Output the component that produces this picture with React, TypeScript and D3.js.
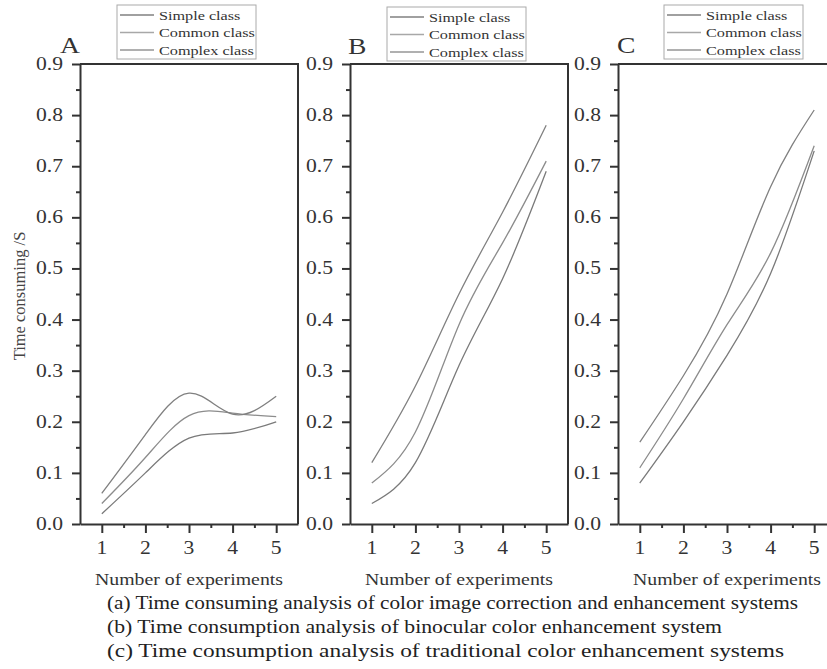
import React, { useEffect, useRef } from 'react';
import * as d3 from 'd3';

// values
const experiments = [1, 2, 3, 4, 5];
const classNames = ['Simple class', 'Common class', 'Complex class'];
const panelLetters = ['A', 'B', 'C'];

const simpleA = [0.02, 0.1, 0.168, 0.178, 0.2];
const commonA = [0.04, 0.13, 0.212, 0.217, 0.21];
const complexA = [0.06, 0.175, 0.256, 0.215, 0.25];

const simpleB = [0.04, 0.12, 0.31, 0.48, 0.69];
const commonB = [0.08, 0.18, 0.39, 0.55, 0.71];
const complexB = [0.12, 0.27, 0.45, 0.61, 0.78];

const simpleC = [0.08, 0.2, 0.33, 0.49, 0.73];
const commonC = [0.11, 0.245, 0.39, 0.53, 0.74];
const complexC = [0.16, 0.29, 0.45, 0.66, 0.81];

const yMajor = [0, 0.1, 0.2, 0.3, 0.4, 0.5, 0.6, 0.7, 0.8, 0.9];
const yMinor = [0.05, 0.15, 0.25, 0.35, 0.45, 0.55, 0.65, 0.75, 0.85];
const xMinor = [1.5, 2.5, 3.5, 4.5];

const captions = [
    '(a) Time consuming analysis of color image correction and enhancement systems',
    '(b) Time consumption analysis of binocular color enhancement system',
    '(c) Time consumption analysis of traditional color enhancement systems',
];

const panels = [
    { series: [simpleA, commonA, complexA] },
    { series: [simpleB, commonB, complexB] },
    { series: [simpleC, commonC, complexC] },
];

const FONT = '"Liberation Serif", "Times New Roman", serif';
const SX = 1.2; // the picture is a bit wide, so the type is stretched

const D3TimeChart = () => {
    const svgRef = useRef(null);

    useEffect(() => {
        const svg = d3.select(svgRef.current);
        svg.selectAll('*').remove();

        const top = 64;
        const bottom = 524;
        const panelW = 218;
        const panelLeft = [80, 350, 618];
        const letterPos = [[60, 53], [348, 54], [617, 53]];
        const legendPos = [[117, 5], [387, 7], [664, 5]];
        const lineColors = ['#7a7a7a', '#8c8c8c', '#808080'];
        const legendColors = ['#808080', '#a8a8a8', '#969696'];

        const y = d3.scaleLinear().domain([0, 0.9]).range([bottom, top]);
        const fmt = d3.format('.1f');

        const stretched = (parent, x, yy, txt, size, anchor) => {
            parent.append('g')
                .attr('transform', `translate(${x},${yy}) scale(${SX},1)`)
                .append('text')
                .attr('text-anchor', anchor)
                .attr('font-family', FONT)
                .attr('font-size', size)
                .attr('fill', '#333')
                .text(txt);
        };

        panels.forEach((p, i) => {
            const left = panelLeft[i];
            const x = d3.scaleLinear().domain([0.5, 5.5]).range([left, left + panelW]);
            const g = svg.append('g');

            // top and right border
            g.append('path')
                .attr('d', `M${x(0.5)},${y(0.9)}H${x(5.5)}V${y(0)}`)
                .attr('fill', 'none')
                .attr('stroke', '#333')
                .attr('stroke-width', 2);

            g.append('g').attr('transform', `translate(${left},0)`)
                .call(d3.axisLeft(y).tickValues(yMajor).tickSize(8).tickSizeOuter(0).tickFormat(() => ''));
            g.append('g').attr('transform', `translate(${left},0)`)
                .call(d3.axisLeft(y).tickValues(yMinor).tickSize(4).tickSizeOuter(0).tickFormat(() => ''))
                .select('.domain').remove();

            g.append('g').attr('transform', `translate(0,${bottom})`)
                .call(d3.axisBottom(x).tickValues(experiments).tickSize(9).tickSizeOuter(0).tickFormat(() => ''));
            g.append('g').attr('transform', `translate(0,${bottom})`)
                .call(d3.axisBottom(x).tickValues(xMinor).tickSize(4).tickSizeOuter(0).tickFormat(() => ''))
                .select('.domain').remove();

            g.selectAll('.domain').attr('stroke', '#333').attr('stroke-width', 2);
            g.selectAll('.tick line').attr('stroke', '#333').attr('stroke-width', 2);

            yMajor.forEach(v => stretched(g, left - 17, y(v) + 6, fmt(v), 18, 'end'));
            experiments.forEach(v => stretched(g, x(v), bottom + 30, String(v), 18, 'middle'));
            stretched(g, (x(0.5) + x(5.5)) / 2, bottom + 61, 'Number of experiments', 16.5, 'middle');
            stretched(g, letterPos[i][0], letterPos[i][1], panelLetters[i], 23, 'start');

            const line = d3.line()
                .x((d, k) => x(experiments[k]))
                .y(d => y(d))
                .curve(d3.curveNatural);

            p.series.forEach((s, k) => {
                g.append('path')
                    .datum(s)
                    .attr('d', line)
                    .attr('fill', 'none')
                    .attr('stroke', lineColors[k])
                    .attr('stroke-width', 1.3);
            });

            // legend
            const [bx, by] = legendPos[i];
            const lg = g.append('g').attr('transform', `translate(${bx},${by})`);
            lg.append('rect')
                .attr('width', 139).attr('height', 54)
                .attr('fill', '#fff').attr('stroke', '#aaa').attr('stroke-width', 1);
            classNames.forEach((name, k) => {
                const ry = 10 + k * 17.5;
                lg.append('line')
                    .attr('x1', 3).attr('x2', 37).attr('y1', ry).attr('y2', ry)
                    .attr('stroke', legendColors[k]).attr('stroke-width', 1.5);
                stretched(lg, 42, ry + 4.5, name, 13.5, 'start');
            });
        });

        // y title
        svg.append('text')
            .attr('transform', 'translate(25,296) rotate(-90)')
            .attr('text-anchor', 'middle')
            .attr('font-family', FONT)
            .attr('font-size', 16.5)
            .attr('fill', '#444')
            .text('Time consuming /S');

        const capLen = [691, 615, 677];
        captions.forEach((c, k) => {
            svg.append('text')
                .attr('x', 107)
                .attr('y', 609 + k * 24)
                .attr('font-family', FONT)
                .attr('font-size', 18)
                .attr('fill', '#222')
                .attr('textLength', capLen[k])
                .attr('lengthAdjust', 'spacingAndGlyphs')
                .text(c);
        });
    }, []);

    return (
        <svg ref={svgRef} width={827} height={669}
            style={{ position: 'absolute', left: 0, top: 0, background: '#fff' }}></svg>
    );
};

export default function App() {
    return <D3TimeChart />;
}
